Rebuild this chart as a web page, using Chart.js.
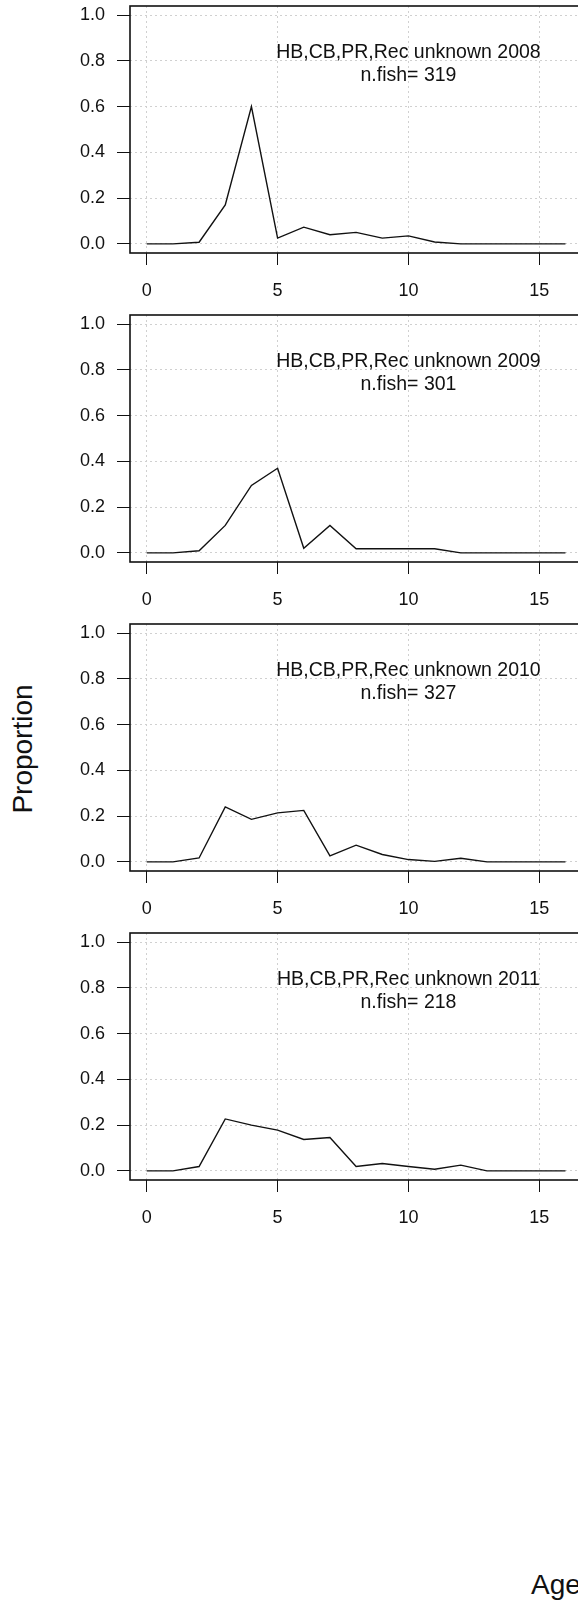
<!DOCTYPE html>
<html>
<head>
<meta charset="utf-8">
<script src="https://cdn.jsdelivr.net/npm/chart.js@4.4.1/dist/chart.umd.min.js"></script>
<style>
html, body { margin: 0; padding: 0; background: #fff; }
body { width: 578px; height: 1601px; overflow: hidden; position: relative; font-family: "Liberation Sans", Arial, sans-serif; color: #111; }
.panel { position: absolute; left: 0; width: 801px; height: 309px; }
#ylab { position: absolute; left: 23px; top: 749px; font-size: 28px; line-height: 1; transform: translate(-50%, -50%) rotate(-90deg); white-space: nowrap; }
#xlab { position: absolute; left: 531px; top: 1571px; font-size: 28px; white-space: nowrap; line-height: 1; }
</style>
</head>
<body>
<div id="ylab">Proportion</div>
<div id="xlab">Age</div>
<script>
(()=>{
const ages = [0, 1, 2, 3, 4, 5, 6, 7, 8, 9, 10, 11, 12, 13, 14, 15, 16];
const years = ['2008', '2009', '2010', '2011'];
const nFish = [319, 301, 327, 218];
const fleet = 'HB,CB,PR,Rec unknown';

const prop2008 = [0, 0, 0.007, 0.17, 0.60, 0.025, 0.073, 0.04, 0.05, 0.025, 0.035, 0.008, 0, 0, 0, 0, 0];
const prop2009 = [0, 0, 0.009, 0.12, 0.295, 0.37, 0.02, 0.12, 0.018, 0.018, 0.018, 0.018, 0, 0, 0, 0, 0];
const prop2010 = [0, 0, 0.017, 0.24, 0.186, 0.214, 0.225, 0.026, 0.073, 0.032, 0.01, 0.002, 0.016, 0, 0, 0, 0];
const prop2011 = [0, 0, 0.019, 0.227, 0.20, 0.178, 0.137, 0.146, 0.019, 0.032, 0.019, 0.007, 0.025, 0, 0, 0, 0];
const series = [prop2008, prop2009, prop2010, prop2011];

const xTicks = [0, 5, 10, 15];
const yTicks = [0, 0.2, 0.4, 0.6, 0.8, 1.0];

const font = { family: '"Liberation Sans", Arial, sans-serif', size: 18 };

// plot frame, drawn last like R's box()
const boxPlugin = {
    id: 'box',
    afterDraw(chart) {
        const { ctx, chartArea: a } = chart;
        ctx.save();
        ctx.strokeStyle = '#111';
        ctx.lineWidth = 1.6;
        ctx.strokeRect(a.left, a.top, a.right - a.left, a.bottom - a.top);
        ctx.restore();
    }
};

// two-line label in the plot
const notePlugin = {
    id: 'note',
    afterDatasetsDraw(chart, args, opts) {
        const { ctx, scales } = chart;
        const cx = scales.x.getPixelForValue(10);
        const cy = scales.y.getPixelForValue(0.8);
        ctx.save();
        ctx.fillStyle = '#111';
        ctx.font = '19.5px "Liberation Sans", Arial, sans-serif';
        ctx.textAlign = 'center';
        ctx.textBaseline = 'middle';
        ctx.fillText(opts.lines[0], cx, cy - 8);
        ctx.fillText(opts.lines[1], cx, cy + 15);
        ctx.restore();
    }
};

series.forEach((vals, i) => {
    const wrap = document.createElement('div');
    wrap.className = 'panel';
    wrap.style.top = (i * 309) + 'px';
    const cv = document.createElement('canvas');
    cv.width = 801;
    cv.height = 309;
    wrap.appendChild(cv);
    document.body.appendChild(wrap);

    new Chart(cv, {
        type: 'line',
        data: {
            datasets: [{
                data: ages.map((a, k) => ({ x: a, y: vals[k] })),
                borderColor: '#111',
                borderWidth: 1.4,
                pointRadius: 0,
                tension: 0,
                fill: false
            }]
        },
        options: {
            responsive: false,
            animation: false,
            devicePixelRatio: 1,
            layout: { padding: { top: 6, left: 0, right: 0, bottom: 0 } },
            plugins: {
                legend: { display: false },
                tooltip: { enabled: false },
                note: { lines: [fleet + ' ' + years[i], 'n.fish= ' + nFish[i]] }
            },
            scales: {
                x: {
                    type: 'linear',
                    min: -0.64,
                    max: 25,
                    afterBuildTicks: s => { s.ticks = xTicks.map(v => ({ value: v })); },
                    afterFit: s => { s.height = 56; s.paddingLeft = 0; s.paddingRight = 0; },
                    grid: { color: '#d0d0d0', lineWidth: 1, tickColor: '#111', tickLength: 12, tickWidth: 1 },
                    border: { display: false, dash: [2, 3] },
                    ticks: { color: '#111', font, padding: 15, maxRotation: 0, autoSkip: false, callback: v => String(v) }
                },
                y: {
                    min: -0.04,
                    max: 1.04,
                    afterBuildTicks: s => { s.ticks = yTicks.map(v => ({ value: v })); },
                    afterFit: s => { s.width = 130; s.paddingTop = 0; s.paddingBottom = 0; },
                    grid: { color: '#d0d0d0', lineWidth: 1, tickColor: '#111', tickLength: 13, tickWidth: 1 },
                    border: { display: false, dash: [2, 3] },
                    ticks: { color: '#111', font, padding: 12, autoSkip: false, callback: v => v.toFixed(1) }
                }
            }
        },
        plugins: [boxPlugin, notePlugin]
    });
});
})();
</script>
</body>
</html>
